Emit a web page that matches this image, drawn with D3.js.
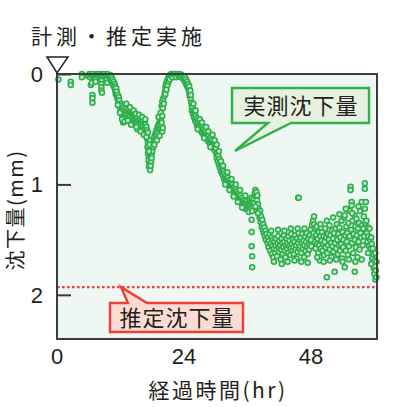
<!DOCTYPE html>
<html><head><meta charset="utf-8">
<script src="https://cdn.jsdelivr.net/npm/d3@7"></script>
<style>
body{margin:0;background:#fff;}
svg{display:block;}
</style></head>
<body>
<svg id="c" width="393" height="407"></svg>
<script>
// ---- data (hours, settlement mm) ----
const timeHr = [
0.25,2.6,2.6,4.7,4.7,
5.9,6.1,6.3,6.5,6.7,6.9,7.1,7.3,7.5,7.7,7.9,8.1,8.3,8.5,8.7,8.9,9.1,9.3,9.5,9.7,9.9,
6.4,6.6,6.7,6.7,6.7,7.3,7.3,8.4,8.4,8.4,8.4,8.5,9.4,9.5,
9.8,10.0,10.1,10.2,10.3,10.4,10.5,10.6,10.7,10.8,10.9,11.0,11.0,11.1,11.2,11.3,11.3,11.4,11.5,11.6,11.7,11.8,11.8,11.9,12.0,12.1,12.2,12.3,12.4,12.5,12.6,12.7,12.8,12.9,13.0,13.1,13.2,13.3,13.4,13.5,13.6,13.7,13.8,13.9,14.0,14.1,14.2,14.3,14.4,14.5,14.6,14.7,14.8,14.9,15.0,15.1,15.2,15.3,15.4,15.5,15.6,15.7,15.8,15.9,16.0,16.1,16.2,16.3,16.4,16.5,16.6,16.7,16.8,16.9,17.0,17.0,
17.1,17.2,17.1,17.3,17.2,17.4,17.3,17.5,17.4,17.6,17.7,17.8,17.7,17.9,17.8,18.0,18.1,17.6,17.5,
18.2,18.3,18.4,18.5,18.6,18.7,18.8,18.9,19.0,19.1,19.2,19.3,19.4,19.5,19.6,19.7,19.8,19.9,20.0,
19.8,19.9,20.0,20.1,20.2,20.3,20.4,20.5,20.5,20.6,20.7,20.8,20.9,21.0,21.1,21.2,21.3,
21.4,21.6,21.8,22.0,22.3,22.5,22.8,23.0,23.2,23.4,23.6,23.8,24.0,
24.1,24.2,24.3,24.4,24.5,24.6,24.7,24.8,24.9,25.0,25.0,25.1,25.2,25.3,25.4,25.5,25.5,25.6,25.7,25.8,25.9,26.0,26.1,26.2,26.3,26.4,26.5,26.6,26.7,26.8,26.9,27.0,27.1,27.2,27.3,27.4,27.5,27.6,27.7,27.8,27.9,28.0,28.1,28.2,28.3,28.4,28.5,28.6,28.7,28.8,28.9,29.0,29.1,29.2,29.3,29.4,29.5,29.6,29.7,29.8,29.9,30.0,30.1,30.2,30.3,30.4,30.5,30.6,30.7,30.8,30.9,31.0,31.1,31.2,31.3,31.4,31.5,31.6,31.7,31.8,31.9,32.0,32.1,32.2,32.3,32.4,32.5,32.6,32.7,32.8,32.9,33.0,33.1,33.2,33.3,33.4,33.5,33.6,33.7,33.8,33.9,34.0,34.1,34.2,34.3,34.4,34.5,34.6,34.7,34.8,34.9,35.0,35.1,35.2,
35.3,35.4,35.5,35.6,35.7,35.8,35.9,36.0,36.1,36.2,36.3,36.4,36.5,36.6,36.7,36.8,36.9,37.0,37.1,37.2,37.3,37.4,37.5,37.6,37.7,37.8,37.9,38.0,38.1,
36.8,36.8,36.8,36.9,36.9,
38.2,38.3,38.4,38.5,38.6,38.7,38.8,38.9,39.0,39.1,39.2,39.3,39.4,39.5,39.6,
39.8,39.9,40.0,40.1,40.2,40.3,40.4,40.5,40.6,40.7,40.8,40.9,41.0,41.1,41.2,41.3,41.4,41.5,41.6,41.7,41.8,41.9,42.0,42.1,42.2,42.3,42.4,42.5,42.6,42.7,42.8,42.9,43.0,43.1,43.2,43.3,43.4,43.5,43.6,43.7,43.8,43.9,44.0,44.1,44.2,44.3,44.4,44.5,44.6,44.7,44.8,44.9,45.0,45.1,45.2,45.3,45.4,45.5,45.6,45.7,45.8,45.9,
45.6,45.7,
46.0,46.1,46.2,46.3,46.4,46.5,46.6,46.7,46.8,46.9,47.0,47.1,47.2,47.3,47.4,47.5,47.6,47.7,47.8,47.9,48.0,48.1,48.2,48.3,48.4,48.5,48.6,48.7,48.8,48.9,49.0,49.1,49.2,49.3,49.4,49.5,49.6,49.7,49.8,49.9,50.0,50.1,50.2,50.3,50.4,50.5,50.6,50.7,50.8,50.9,51.0,51.1,51.2,51.3,51.4,51.5,51.6,51.7,51.8,51.9,52.0,52.1,52.2,52.3,52.4,52.5,52.6,52.7,52.8,52.9,53.0,53.1,53.2,53.3,53.4,53.5,53.6,53.7,53.8,53.9,54.0,54.1,54.2,54.3,54.4,54.4,54.5,54.6,54.7,54.8,54.9,55.0,55.1,55.2,55.3,55.4,55.5,55.5,55.6,55.7,55.7,55.8,55.9,56.0,56.1,56.2,56.3,56.3,56.4,56.5,56.6,56.7,56.8,56.9,57.0,57.1,57.2,57.3,57.4,57.5,57.6,57.7,57.8,57.9,58.0,58.1,58.2,58.2,58.3,58.4,58.5,58.6,58.7,58.8,58.9,59.0,59.1,
59.2,59.3,59.4,59.5,59.5,59.6,59.7,59.8,59.8,59.9,60.0,60.0,60.1,60.2,60.2,60.3,60.4,60.4,
11.5,11.9,12.3,12.8,13.1,13.4,13.8,14.2,14.5,14.9,15.2,15.5,15.8,16.1,16.4,16.7,16.9,17.2,15.0,14.0,
17.4,17.9,18.4,18.9,19.4,19.2,19.6,19.9,
25.3,25.8,26.2,26.6,27.0,27.4,27.8,28.2,28.6,29.0,29.4,29.8,30.2,30.6,31.0,31.4,31.8,32.2,32.6,33.0,33.4,33.8,34.2,34.6,35.0,35.6,36.3,36.9,37.5,38.0,
40.5,41.0,41.8,42.5,43.0,43.6,44.2,44.9,45.5,46.2,46.8,47.4,48.0,48.6,49.2,49.8,50.4,51.0,51.6,52.2,52.8,53.4,54.0,54.6,55.2,55.8,56.4,57.0,57.6,58.2,58.8,59.4
];
const settlementMm = [
0.05,0.07,0.10,0.00,0.03,
0.02,0.00,0.03,0.01,0.00,0.02,0.04,0.01,0.00,0.02,0.00,0.03,0.01,0.00,0.02,0.00,0.03,0.01,0.00,0.02,0.04,
0.10,0.08,0.19,0.22,0.26,0.05,0.07,0.06,0.09,0.12,0.15,0.17,0.05,0.08,
0.02,0.04,0.01,0.06,0.03,0.08,0.05,0.10,0.07,0.12,0.09,0.15,0.11,0.18,0.13,0.20,0.16,0.22,0.19,0.25,0.21,0.28,0.24,0.31,0.27,0.34,0.29,0.37,0.32,0.44,0.35,0.30,0.38,0.33,0.36,0.31,0.39,0.34,0.37,0.32,0.40,0.35,0.38,0.34,0.41,0.36,0.39,0.35,0.42,0.37,0.44,0.38,0.41,0.46,0.39,0.43,0.40,0.47,0.42,0.45,0.49,0.41,0.46,0.43,0.50,0.44,0.47,0.42,0.52,0.45,0.49,0.46,0.53,0.48,0.51,0.56,
0.59,0.62,0.66,0.69,0.72,0.75,0.78,0.81,0.84,0.87,0.83,0.79,0.75,0.72,0.68,0.70,0.65,0.60,0.64,
0.66,0.61,0.57,0.60,0.54,0.58,0.51,0.55,0.48,0.53,0.46,0.50,0.44,0.49,0.42,0.47,0.44,0.52,0.49,
0.29,0.25,0.31,0.22,0.27,0.20,0.16,0.12,0.18,0.09,0.14,0.06,0.10,0.04,0.07,0.02,0.05,
0.01,0.00,0.03,0.00,0.00,0.03,0.00,0.02,0.00,0.03,0.01,0.04,0.02,
0.06,0.03,0.08,0.05,0.10,0.07,0.12,0.09,0.14,0.11,0.17,0.20,0.15,0.23,0.26,0.29,0.33,0.30,0.36,0.33,0.39,0.35,0.42,0.38,0.44,0.40,0.47,0.42,0.45,0.49,0.44,0.47,0.51,0.46,0.49,0.53,0.48,0.51,0.55,0.50,0.53,0.57,0.52,0.55,0.59,0.54,0.57,0.61,0.56,0.59,0.63,0.58,0.61,0.65,0.60,0.63,0.67,0.62,0.65,0.69,0.64,0.67,0.72,0.76,0.71,0.79,0.74,0.82,0.77,0.85,0.80,0.88,0.84,0.90,0.86,0.92,0.88,0.95,0.90,0.93,0.97,0.92,0.95,0.99,0.94,0.97,1.01,0.96,0.99,1.03,0.98,1.01,1.05,1.00,1.03,1.07,1.02,1.05,1.09,1.04,1.07,1.11,1.06,1.09,1.13,1.08,1.11,1.15,1.10,1.13,1.17,1.12,1.15,1.19,
1.14,1.20,1.16,1.22,1.17,1.21,1.15,1.19,1.23,1.17,1.20,1.14,1.18,1.22,1.16,1.12,1.19,1.15,1.21,1.13,1.17,1.08,1.05,1.11,1.07,1.14,1.10,1.18,1.22,
1.32,1.43,1.56,1.65,1.75,
1.26,1.30,1.24,1.34,1.29,1.38,1.32,1.41,1.36,1.44,1.39,1.47,1.42,1.50,1.45,
1.53,1.48,1.57,1.51,1.45,1.60,1.54,1.48,1.63,1.56,1.50,1.66,1.58,1.52,1.62,1.55,1.49,1.59,1.65,1.53,1.47,1.57,1.61,1.51,1.55,1.68,1.59,1.49,1.53,1.63,1.57,1.46,1.52,1.60,1.66,1.55,1.49,1.58,1.53,1.62,1.47,1.56,1.51,1.64,1.58,1.45,1.54,1.60,1.50,1.57,1.63,1.52,1.46,1.59,1.55,1.67,1.49,1.61,1.53,1.44,1.58,1.50,
1.12,1.12,
1.56,1.48,1.62,1.53,1.45,1.58,1.51,1.66,1.55,1.47,1.60,1.52,1.44,1.57,1.63,1.49,1.54,1.59,1.46,1.52,1.41,1.56,1.37,1.48,1.33,1.44,1.36,1.52,1.40,1.58,1.46,1.38,1.54,1.49,1.62,1.43,1.55,1.69,1.47,1.58,1.51,1.43,1.60,1.54,1.47,1.64,1.52,1.40,1.57,1.48,1.84,1.62,1.45,1.55,1.50,1.37,1.59,1.46,1.53,1.66,1.42,1.56,1.49,1.61,1.44,1.79,1.53,1.40,1.58,1.36,1.50,1.63,1.45,1.55,1.39,1.60,1.48,1.54,1.33,1.67,1.43,1.57,1.50,1.30,1.75,1.28,1.46,1.60,1.38,1.52,1.44,1.64,1.35,1.56,1.47,1.24,1.02,1.05,1.41,1.16,1.19,1.53,1.33,1.62,1.45,1.28,1.79,1.50,1.38,1.57,1.31,1.46,1.66,1.40,1.52,1.35,1.59,1.24,1.44,1.48,1.16,1.37,1.55,1.40,1.29,1.47,0.99,1.04,1.35,1.16,1.33,1.44,1.52,1.39,1.47,1.56,1.40,
1.50,1.58,1.48,1.62,1.54,1.67,1.58,1.72,1.63,1.76,1.69,1.81,1.74,1.86,1.62,1.78,1.70,1.84,
0.28,0.35,0.41,0.43,0.27,0.42,0.30,0.45,0.33,0.36,0.50,0.37,0.52,0.39,0.55,0.41,0.57,0.53,0.48,0.46,
0.70,0.76,0.64,0.60,0.56,0.39,0.35,0.38,
0.19,0.27,0.33,0.50,0.41,0.44,0.58,0.48,0.52,0.66,0.55,0.60,0.64,0.70,0.79,0.83,1.00,0.89,1.05,0.95,1.11,1.00,1.16,1.05,1.21,1.10,1.25,1.24,1.20,1.26,
1.42,1.70,1.41,1.72,1.42,1.70,1.40,1.69,1.40,1.70,1.40,1.71,1.50,1.29,1.66,1.36,1.70,1.33,1.69,1.30,1.68,1.27,1.70,1.22,1.68,1.26,1.70,1.20,1.68,1.22,1.62,1.72
];
const xTicks = [0, 24, 48];
const yTicks = [0, 1, 2];
const estimatedMm = 1.93;
const titleText = "計測・推定実施";
const xLabel = "経過時間(hr)";
const yLabel = "沈下量(mm)";
const measuredLabel = "実測沈下量";
const estimatedLabel = "推定沈下量";

const svg = d3.select("#c");
const L = 57, R = 377, T = 74, B = 339;
const x = d3.scaleLinear().domain([0, 60.5]).range([L, R]);
const y = d3.scaleLinear().domain([0, 2.4]).range([T, B]);
const ink = "#231f20";
const jp = "'Noto Sans CJK JP','Noto Sans',sans-serif";
const num = "'Liberation Sans',Arial,sans-serif";

// plot background
svg.append("rect").attr("x", L).attr("y", T).attr("width", R - L).attr("height", B - T)
  .attr("fill", "#eef7f1");

// estimated line
svg.append("line").attr("x1", L).attr("x2", R).attr("y1", y(estimatedMm)).attr("y2", y(estimatedMm))
  .attr("stroke", "#e8453c").attr("stroke-width", 2.4).attr("stroke-dasharray", "2.6,2.4");

// points
const pts = timeHr.map((t, i) => [t, settlementMm[i]]);
svg.append("g").selectAll("circle").data(pts).join("circle")
  .attr("cx", d => x(d[0])).attr("cy", d => y(d[1])).attr("r", 2.5)
  .attr("fill", "#c2e6c9").attr("stroke", "#2aae4a").attr("stroke-width", 1.5);

// frame
svg.append("rect").attr("x", L).attr("y", T).attr("width", R - L).attr("height", B - T)
  .attr("fill", "none").attr("stroke", "#3d3d3d").attr("stroke-width", 2);

// y axis ticks (inward)
const yAxis = d3.axisRight(y).tickValues(yTicks).tickSize(14).tickFormat("");
const gy = svg.append("g").attr("transform", `translate(${L},0)`).call(yAxis);
gy.select(".domain").remove();
gy.selectAll("line").attr("stroke", "#3d3d3d").attr("stroke-width", 2);
svg.append("g").selectAll("text").data(yTicks).join("text")
  .attr("x", 43).attr("y", d => y(d) + 8).attr("text-anchor", "end")
  .attr("font-family", num).attr("font-size", 22).attr("fill", ink).text(d => d);

// x tick labels
svg.append("g").selectAll("text").data(xTicks).join("text")
  .attr("x", d => x(d)).attr("y", 364).attr("text-anchor", "middle")
  .attr("font-family", num).attr("font-size", 22).attr("fill", ink).text(d => d);

// triangle marker at origin
svg.append("path").attr("d", `M${L - 10},57 L${L + 11},57 L${L},73 Z`)
  .attr("fill", "#fff").attr("stroke", ink).attr("stroke-width", 1.5);

// title
svg.append("text").attr("x", 31).attr("y", 44).attr("font-family", jp).attr("font-size", 21)
  .attr("letter-spacing", 4).attr("fill", ink).text(titleText);

// axis titles
svg.append("text").attr("x", 218).attr("y", 398).attr("text-anchor", "middle")
  .attr("font-family", jp).attr("font-size", 21).attr("letter-spacing", 2.5).attr("fill", ink).text(xLabel);
svg.append("text").attr("transform", "translate(23,210) rotate(-90)").attr("text-anchor", "middle")
  .attr("font-family", jp).attr("font-size", 20).attr("letter-spacing", 1.5).attr("fill", ink).text(yLabel);

// measured callout
svg.append("path").attr("d", "M232,88 H369 V123 H291 L235,151 L268,123 H232 Z")
  .attr("fill", "#e6f1df").attr("stroke", "#2db34a").attr("stroke-width", 2.4).attr("stroke-linejoin", "miter");
svg.append("text").attr("x", 301).attr("y", 114).attr("text-anchor", "middle")
  .attr("font-family", jp).attr("font-size", 22).attr("letter-spacing", 1).attr("fill", ink).text(measuredLabel);

// estimated callout
svg.append("path").attr("d", `M110,303 H128 L121,${y(estimatedMm)} L147,303 H243 V332 H110 Z`)
  .attr("fill", "#fcdcd2").attr("stroke", "#ee4036").attr("stroke-width", 2.4);
svg.append("text").attr("x", 177).attr("y", 326).attr("text-anchor", "middle")
  .attr("font-family", jp).attr("font-size", 22).attr("letter-spacing", 1).attr("fill", ink).text(estimatedLabel);
</script>
</body></html>
